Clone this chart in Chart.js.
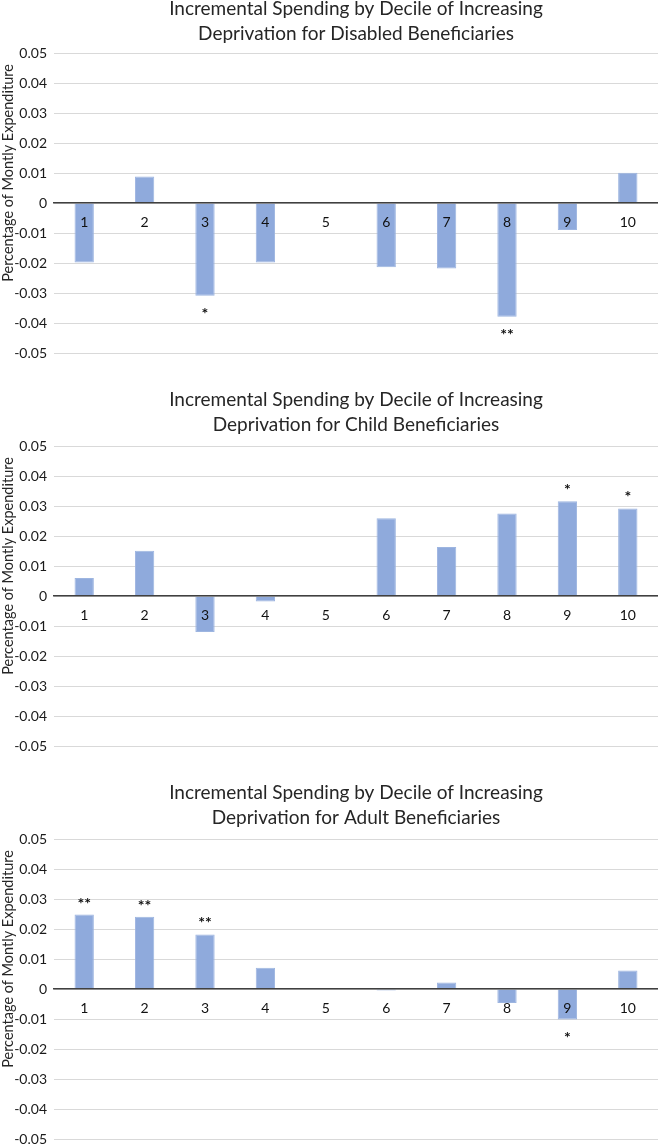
<!DOCTYPE html>
<html>
<head>
<meta charset="utf-8">
<script src="https://cdn.jsdelivr.net/npm/chart.js@4"></script>
<style>
  html, body { margin: 0; padding: 0; background: #fff; overflow: hidden; }
  body { width: 658px; height: 1144px; position: relative; }
  .box { position: absolute; left: 0; width: 658px; height: 399px; }
</style>
</head>
<body>
<div class="box" style="top:-6px"><canvas id="disabledChart"></canvas></div>
<div class="box" style="top:387px"><canvas id="childChart"></canvas></div>
<div class="box" style="top:780px"><canvas id="adultChart"></canvas></div>
<script>
// deciles on the x axis
const deciles = ['1', '2', '3', '4', '5', '6', '7', '8', '9', '10'];

// values (share of monthly expenditure)
const disabledValues = [-0.0198, 0.0088, -0.0309, -0.0198, 0, -0.0214, -0.0218, -0.0379, -0.009, 0.0101];
const childValues = [0.006, 0.0151, -0.012, -0.0018, 0, 0.0259, 0.0163, 0.0275, 0.0316, 0.0292];
const adultValues = [0.0248, 0.0241, 0.0182, 0.0071, 0, -0.0005, 0.0022, -0.0047, -0.0102, 0.0062];

// significance marks
const disabledStars = ['', '', '*', '', '', '', '', '**', '', ''];
const childStars = ['', '', '', '', '', '', '', '', '*', '*'];
const adultStars = ['**', '**', '**', '', '', '', '', '', '*', ''];

const yMin = -0.05, yMax = 0.05, yStep = 0.01;
const yTitle = 'Percentage of Montly Expenditure';

// draws the stars just past the end of each bar
const starPlugin = {
    id: 'stars',
    afterDatasetsDraw(chart, args, opts) {
        const ctx = chart.ctx;
        const meta = chart.getDatasetMeta(0);
        const values = chart.data.datasets[0].data;
        ctx.save();
        ctx.font = 'bold 16px Lato';
        ctx.fillStyle = '#111';
        ctx.textAlign = 'center';
        ctx.textBaseline = 'alphabetic';
        opts.marks.forEach((m, i) => {
            if (!m) return;
            const bar = meta.data[i];
            const y = values[i] >= 0 ? bar.y - 6 : bar.y + 23;
            ctx.fillText(m, bar.x, y);
        });
        ctx.restore();
    }
};

// y axis title, sits a bit above the middle like the original
const yTitlePlugin = {
    id: 'yTitle',
    afterDraw(chart) {
        const ctx = chart.ctx;
        const area = chart.chartArea;
        ctx.save();
        ctx.translate(8, (area.top + area.bottom) / 2 - 30);
        ctx.rotate(-Math.PI / 2);
        ctx.font = '14.5px Lato';
        ctx.fillStyle = '#262626';
        ctx.textAlign = 'center';
        ctx.textBaseline = 'middle';
        ctx.fillText(yTitle, 0, 0);
        ctx.restore();
    }
};

function makeChart(id, titleLines, values, stars, padTop) {
    const ctx = document.getElementById(id).getContext('2d');
    return new Chart(ctx, {
        type: 'bar',
        data: {
            labels: deciles,
            datasets: [{
                data: values,
                backgroundColor: '#8FAADC',
                borderColor: '#9DB5E0',
                borderWidth: 1,
                barPercentage: 0.32,
                categoryPercentage: 1.0
            }]
        },
        options: {
            responsive: true,
            maintainAspectRatio: false,
            animation: false,
            layout: { padding: { top: 0, right: 0, bottom: 40, left: 0 } },
            plugins: {
                legend: { display: false },
                tooltip: { enabled: false },
                title: {
                    display: true,
                    text: titleLines,
                    fullSize: false,
                    color: '#262626',
                    font: { family: 'Lato', size: 19, weight: 'normal', lineHeight: 1.3 },
                    padding: { top: padTop, bottom: 9.6 - padTop }
                },
                stars: { marks: stars }
            },
            scales: {
                x: {
                    position: { y: 0 },
                    offset: true,
                    grid: { display: false, drawTicks: false },
                    border: { display: true, color: '#404040', width: 1.5, z: 1 },
                    ticks: {
                        z: 1,
                        color: '#111',
                        padding: 11,
                        maxRotation: 0,
                        font: { family: 'Lato', size: 14 }
                    }
                },
                y: {
                    min: yMin,
                    max: yMax,
                    afterFit(scale) { scale.width = 54; },
                    grid: { color: '#d9d9d9', lineWidth: 1, drawTicks: false },
                    border: { display: false },
                    ticks: {
                        stepSize: yStep,
                        color: '#1a1a1a',
                        padding: 7,
                        font: { family: 'Lato', size: 14 },
                        callback: v => String(Math.round(v * 100) / 100)
                    },
                    title: { display: false }
                }
            }
        },
        plugins: [starPlugin, yTitlePlugin]
    });
}

makeChart('disabledChart', ['Incremental Spending by Decile of Increasing', 'Deprivation for Disabled Beneficiaries'], disabledValues, disabledStars, 3);
makeChart('childChart', ['Incremental Spending by Decile of Increasing', 'Deprivation for Child Beneficiaries'], childValues, childStars, 1);
makeChart('adultChart', ['Incremental Spending by Decile of Increasing', 'Deprivation for Adult Beneficiaries'], adultValues, adultStars, 1);
</script>
</body>
</html>
